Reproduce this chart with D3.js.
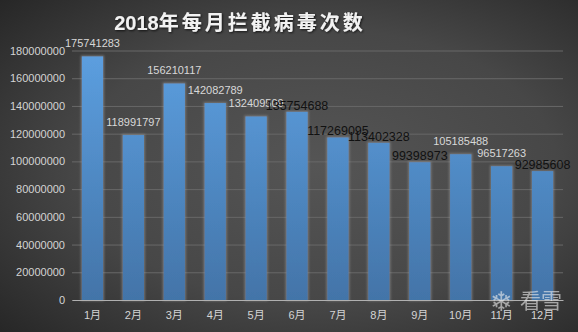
<!DOCTYPE html>
<html><head><meta charset="utf-8">
<script src="https://cdn.jsdelivr.net/npm/d3@7"></script>
<style>
html,body{margin:0;padding:0;background:#2b2b2b;}
svg{display:block;}
text{font-family:"Liberation Sans","Noto Sans CJK SC",Arial,sans-serif;}
</style></head>
<body>
<svg id="c" width="578" height="332"></svg>
<script>
const title = "2018年每月拦截病毒次数";
const months = ["1月","2月","3月","4月","5月","6月","7月","8月","9月","10月","11月","12月"];
const values = [175741283,118991797,156210117,142082789,132409509,135754688,117269095,113402328,99398973,105185488,96517263,92985608];
const labelDark = [false,false,false,false,false,true,true,true,true,false,false,true];
const yTicks = [0,20000000,40000000,60000000,80000000,100000000,120000000,140000000,160000000,180000000];

const W=578,H=332;
const m={left:72,right:15,top:50.5,bottom:32};
const svg=d3.select("#c");
const defs=svg.append("defs");

const bg=defs.append("radialGradient").attr("id","bg").attr("cx","0.55").attr("cy","0.5").attr("r","0.75");
bg.append("stop").attr("offset","0").attr("stop-color","#555555");
bg.append("stop").attr("offset","0.55").attr("stop-color","#474747");
bg.append("stop").attr("offset","1").attr("stop-color","#262626");

const bar=defs.append("linearGradient").attr("id","bar").attr("x1",0).attr("y1",0).attr("x2",0).attr("y2",1).attr("gradientUnits","userSpaceOnUse");
const f=defs.append("filter").attr("id","glow").attr("x","-30%").attr("y","-10%").attr("width","160%").attr("height","120%");
f.append("feMorphology").attr("in","SourceAlpha").attr("operator","dilate").attr("radius",1.2).attr("result","d");
f.append("feGaussianBlur").attr("in","d").attr("stdDeviation",1.2).attr("result","b");
f.append("feFlood").attr("flood-color","#9a9a9a").attr("flood-opacity",0.55);
f.append("feComposite").attr("in2","b").attr("operator","in").attr("result","g");
const fm=f.append("feMerge"); fm.append("feMergeNode").attr("in","g"); fm.append("feMergeNode").attr("in","SourceGraphic");

const ts=defs.append("filter").attr("id","tshadow");
ts.append("feDropShadow").attr("dx",1).attr("dy",1).attr("stdDeviation",0.8).attr("flood-color","#000").attr("flood-opacity",0.7);

svg.append("rect").attr("width",W).attr("height",H).attr("fill","url(#bg)");

const x=d3.scaleBand().domain(months).range([m.left,W-m.right]).paddingInner(0.48).paddingOuter(0.24);
const y=d3.scaleLinear().domain([0,180000000]).range([H-m.bottom,m.top]);

bar.attr("y1",y(180000000)).attr("y2",y(0));
bar.append("stop").attr("offset","0").attr("stop-color","#5c9fe0");
bar.append("stop").attr("offset","1").attr("stop-color","#4374a8");

// grid
const gy=svg.append("g").attr("transform",`translate(${m.left},0)`)
  .call(d3.axisLeft(y).tickValues(yTicks).tickFormat(d3.format("d")).tickSize(-(W-m.right-m.left)).tickPadding(7));
gy.select(".domain").remove();
gy.selectAll(".tick line").attr("stroke","#686868").attr("stroke-width",1);
gy.selectAll(".tick text").attr("fill","#d4d4d4").attr("font-size","11px").attr("font-family","Liberation Sans, Arial, sans-serif");

// bars
svg.append("g").selectAll("rect").data(values).join("rect")
  .attr("x",(d,i)=>x(months[i])).attr("width",x.bandwidth())
  .attr("y",d=>y(d)).attr("height",d=>y(0)-y(d))
  .attr("fill","url(#bar)").attr("filter","url(#glow)");

// x axis
const gx=svg.append("g").attr("transform",`translate(0,${y(0)})`).call(d3.axisBottom(x).tickSize(0).tickPadding(11));
gx.select(".domain").attr("stroke","#b0b0b0").attr("stroke-width",1.2);
gx.selectAll(".tick text").attr("fill","#d4d4d4").attr("font-size","11px");

// watermark
const wm=svg.append("g").attr("opacity",0.6);
wm.append("text").attr("x",501).attr("y",311).attr("text-anchor","middle").attr("font-size","27px").attr("fill","#eeeeee").attr("font-family","DejaVu Sans").text("❄");
wm.append("text").attr("x",520).attr("y",308).attr("font-size","21px").attr("fill","#eeeeee").attr("font-family","Noto Sans CJK SC").text("看雪");

// value labels
svg.append("g").selectAll("text").data(values).join("text")
  .attr("x",(d,i)=>x(months[i])+x.bandwidth()/2)
  .attr("y",(d,i)=>labelDark[i]? y(d)-2 : y(d)-9)
  .attr("text-anchor","middle")
  .attr("font-size",(d,i)=>labelDark[i]?"12.5px":"11px")
  .attr("fill",(d,i)=>labelDark[i]?"#111":"#d8d8d8")
  .text(d=>d);

// title
const t=svg.append("text").attr("x",240).attr("y",30).attr("text-anchor","middle")
  .attr("font-size","20px").attr("font-weight","bold").attr("fill","#f2f2f2").attr("filter","url(#tshadow)");
t.append("tspan").text(title.slice(0,4));
t.append("tspan").attr("letter-spacing","3px").attr("font-family","Noto Sans CJK SC, sans-serif").text(title.slice(4));
</script>
</body></html>
